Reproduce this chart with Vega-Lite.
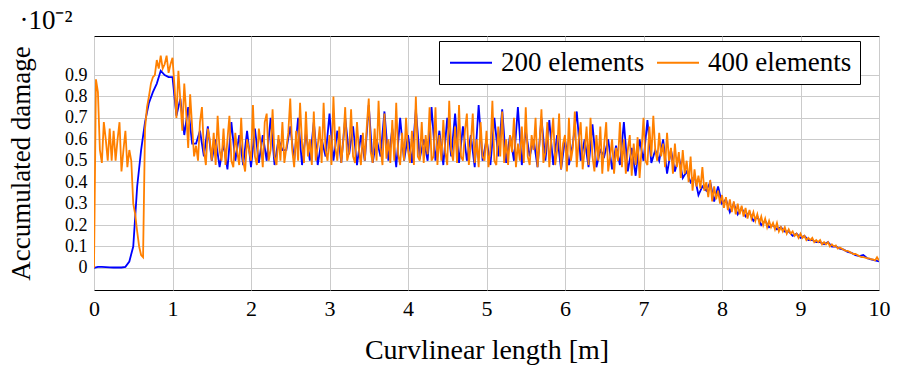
{
  "$schema": "https://vega.github.io/schema/vega-lite/v6.json",
  "width": 785,
  "height": 254,
  "autosize": {"type": "none"},
  "padding": {"left": 94, "top": 36, "right": 18, "bottom": 79},
  "background": "white",
  "title": {"text": "·10⁻²", "anchor": "start", "dx": 12, "offset": 1, "fontSize": 27, "font": "Liberation Serif", "fontWeight": "normal", "color": "black"},
  "config": {
    "view": {"stroke": "black", "strokeWidth": 1},
    "font": "Liberation Serif",
    "axis": {
      "grid": true,
      "gridColor": "#cbcbcb",
      "gridWidth": 1,
      "ticks": false,
      "domain": false,
      "labelFont": "Liberation Serif",
      "labelFontSize": 22,
      "labelColor": "black",
      "labelOverlap": false,
      "labelFlush": false,
      "labelBound": false,
      "titleFont": "Liberation Serif",
      "titleFontSize": 28,
      "titleFontWeight": "normal",
      "titleColor": "black"
    },
    "legend": {
      "labelFont": "Liberation Serif",
      "labelFontSize": 27,
      "labelColor": "black",
      "labelLimit": 400
    }
  },
  "datasets": {
    "e200": [
      {"x":0,"y":0},{"x":0.05,"y":0.005},{"x":0.1,"y":0.005},{"x":0.15,"y":0.004},{"x":0.2,"y":0.003},{"x":0.25,"y":0.002},{"x":0.3,"y":0.002},{"x":0.35,"y":0.002},{"x":0.4,"y":0.005},{"x":0.45,"y":0.03},
      {"x":0.5,"y":0.1},{"x":0.55,"y":0.38},{"x":0.6,"y":0.55},{"x":0.65,"y":0.68},{"x":0.7,"y":0.77},{"x":0.75,"y":0.82},{"x":0.8,"y":0.86},{"x":0.85,"y":0.92},{"x":0.9,"y":0.9},{"x":0.95,"y":0.89},
      {"x":1.0,"y":0.89},{"x":1.05,"y":0.71},{"x":1.1,"y":0.79},{"x":1.15,"y":0.62},{"x":1.2,"y":0.75},{"x":1.25,"y":0.58},{"x":1.3,"y":0.58},{"x":1.35,"y":0.64},{"x":1.4,"y":0.52},{"x":1.45,"y":0.66},
      {"x":1.5,"y":0.5},{"x":1.55,"y":0.6},{"x":1.6,"y":0.47},{"x":1.65,"y":0.58},{"x":1.7,"y":0.46},{"x":1.75,"y":0.68},{"x":1.8,"y":0.5},{"x":1.85,"y":0.62},{"x":1.9,"y":0.48},{"x":1.95,"y":0.64},
      {"x":2.0,"y":0.47},{"x":2.05,"y":0.65},{"x":2.1,"y":0.49},{"x":2.15,"y":0.62},{"x":2.2,"y":0.5},{"x":2.25,"y":0.7},{"x":2.3,"y":0.48},{"x":2.35,"y":0.6},{"x":2.4,"y":0.55},{"x":2.45,"y":0.55},
      {"x":2.5,"y":0.66},{"x":2.55,"y":0.5},{"x":2.6,"y":0.7},{"x":2.65,"y":0.48},{"x":2.7,"y":0.63},{"x":2.75,"y":0.5},{"x":2.8,"y":0.68},{"x":2.85,"y":0.48},{"x":2.9,"y":0.6},{"x":2.95,"y":0.52},
      {"x":3.0,"y":0.72},{"x":3.05,"y":0.5},{"x":3.1,"y":0.64},{"x":3.15,"y":0.49},{"x":3.2,"y":0.7},{"x":3.25,"y":0.53},{"x":3.3,"y":0.66},{"x":3.35,"y":0.48},{"x":3.4,"y":0.62},{"x":3.45,"y":0.5},
      {"x":3.5,"y":0.76},{"x":3.55,"y":0.49},{"x":3.6,"y":0.6},{"x":3.65,"y":0.52},{"x":3.7,"y":0.73},{"x":3.75,"y":0.5},{"x":3.8,"y":0.65},{"x":3.85,"y":0.47},{"x":3.9,"y":0.7},{"x":3.95,"y":0.5},
      {"x":4.0,"y":0.62},{"x":4.05,"y":0.49},{"x":4.1,"y":0.74},{"x":4.15,"y":0.51},{"x":4.2,"y":0.6},{"x":4.25,"y":0.5},{"x":4.3,"y":0.75},{"x":4.35,"y":0.5},{"x":4.4,"y":0.64},{"x":4.45,"y":0.48},
      {"x":4.5,"y":0.7},{"x":4.55,"y":0.52},{"x":4.6,"y":0.72},{"x":4.65,"y":0.49},{"x":4.7,"y":0.66},{"x":4.75,"y":0.5},{"x":4.8,"y":0.62},{"x":4.85,"y":0.47},{"x":4.9,"y":0.76},{"x":4.95,"y":0.5},
      {"x":5.0,"y":0.6},{"x":5.05,"y":0.48},{"x":5.1,"y":0.7},{"x":5.15,"y":0.52},{"x":5.2,"y":0.74},{"x":5.25,"y":0.49},{"x":5.3,"y":0.62},{"x":5.35,"y":0.5},{"x":5.4,"y":0.75},{"x":5.45,"y":0.48},
      {"x":5.5,"y":0.64},{"x":5.55,"y":0.52},{"x":5.6,"y":0.6},{"x":5.65,"y":0.47},{"x":5.7,"y":0.7},{"x":5.75,"y":0.5},{"x":5.8,"y":0.69},{"x":5.85,"y":0.48},{"x":5.9,"y":0.62},{"x":5.95,"y":0.46},
      {"x":6.0,"y":0.6},{"x":6.05,"y":0.48},{"x":6.1,"y":0.58},{"x":6.15,"y":0.73},{"x":6.2,"y":0.5},{"x":6.25,"y":0.6},{"x":6.3,"y":0.47},{"x":6.35,"y":0.67},{"x":6.4,"y":0.47},{"x":6.45,"y":0.55},
      {"x":6.5,"y":0.52},{"x":6.55,"y":0.6},{"x":6.6,"y":0.46},{"x":6.65,"y":0.57},{"x":6.7,"y":0.48},{"x":6.75,"y":0.68},{"x":6.8,"y":0.45},{"x":6.85,"y":0.56},{"x":6.9,"y":0.43},{"x":6.95,"y":0.6},
      {"x":7.0,"y":0.5},{"x":7.05,"y":0.69},{"x":7.1,"y":0.49},{"x":7.15,"y":0.55},{"x":7.2,"y":0.5},{"x":7.25,"y":0.6},{"x":7.3,"y":0.44},{"x":7.35,"y":0.55},{"x":7.4,"y":0.45},{"x":7.45,"y":0.52},
      {"x":7.5,"y":0.42},{"x":7.55,"y":0.45},{"x":7.6,"y":0.4},{"x":7.65,"y":0.43},{"x":7.7,"y":0.34},{"x":7.75,"y":0.38},{"x":7.8,"y":0.36},{"x":7.85,"y":0.4},{"x":7.9,"y":0.31},{"x":7.95,"y":0.38},
      {"x":8.0,"y":0.3},{"x":8.05,"y":0.32},{"x":8.1,"y":0.26},{"x":8.15,"y":0.3},{"x":8.2,"y":0.25},{"x":8.25,"y":0.28},{"x":8.3,"y":0.24},{"x":8.35,"y":0.26},{"x":8.4,"y":0.22},{"x":8.45,"y":0.24},
      {"x":8.5,"y":0.2},{"x":8.55,"y":0.22},{"x":8.6,"y":0.19},{"x":8.65,"y":0.2},{"x":8.7,"y":0.18},{"x":8.75,"y":0.19},{"x":8.8,"y":0.17},{"x":8.85,"y":0.17},{"x":8.9,"y":0.15},{"x":8.95,"y":0.16},
      {"x":9.0,"y":0.14},{"x":9.05,"y":0.15},{"x":9.1,"y":0.13},{"x":9.15,"y":0.13},{"x":9.2,"y":0.12},{"x":9.25,"y":0.12},{"x":9.3,"y":0.11},{"x":9.35,"y":0.12},{"x":9.4,"y":0.1},{"x":9.45,"y":0.1},
      {"x":9.5,"y":0.09},{"x":9.55,"y":0.085},{"x":9.6,"y":0.075},{"x":9.65,"y":0.07},{"x":9.7,"y":0.06},{"x":9.75,"y":0.055},{"x":9.8,"y":0.06},{"x":9.85,"y":0.045},{"x":9.9,"y":0.04},{"x":9.95,"y":0.035},
      {"x":10.0,"y":0.03}
    ],
    "e400": [
      {"x":0,"y":0},{"x":0.025,"y":0.88},{"x":0.05,"y":0.82},{"x":0.075,"y":0.55},{"x":0.1,"y":0.49},{"x":0.125,"y":0.68},{"x":0.15,"y":0.6},{"x":0.175,"y":0.5},
      {"x":0.2,"y":0.65},{"x":0.225,"y":0.5},{"x":0.25,"y":0.64},{"x":0.275,"y":0.5},{"x":0.3,"y":0.6},{"x":0.325,"y":0.68},{"x":0.35,"y":0.45},{"x":0.375,"y":0.55},
      {"x":0.4,"y":0.64},{"x":0.425,"y":0.47},{"x":0.45,"y":0.55},{"x":0.475,"y":0.5},{"x":0.5,"y":0.3},{"x":0.525,"y":0.25},{"x":0.55,"y":0.17},{"x":0.575,"y":0.1},
      {"x":0.6,"y":0.06},{"x":0.625,"y":0.05},{"x":0.65,"y":0.65},{"x":0.675,"y":0.75},{"x":0.7,"y":0.8},{"x":0.725,"y":0.86},{"x":0.75,"y":0.89},{"x":0.775,"y":0.9},
      {"x":0.8,"y":0.97},{"x":0.825,"y":0.93},{"x":0.85,"y":0.99},{"x":0.875,"y":0.93},{"x":0.9,"y":0.95},{"x":0.925,"y":0.99},{"x":0.95,"y":0.91},{"x":0.975,"y":0.95},
      {"x":1.0,"y":0.98},{"x":1.025,"y":0.85},{"x":1.05,"y":0.7},{"x":1.075,"y":0.92},{"x":1.1,"y":0.78},{"x":1.125,"y":0.64},{"x":1.15,"y":0.86},{"x":1.175,"y":0.72},
      {"x":1.2,"y":0.56},{"x":1.225,"y":0.81},{"x":1.25,"y":0.66},{"x":1.275,"y":0.52},
      {"x":1.3,"y":0.57},{"x":1.325,"y":0.5},{"x":1.35,"y":0.68},{"x":1.375,"y":0.75},
      {"x":1.4,"y":0.55},{"x":1.425,"y":0.48},{"x":1.45,"y":0.65},{"x":1.475,"y":0.6},
      {"x":1.5,"y":0.5},{"x":1.525,"y":0.63},{"x":1.55,"y":0.48},{"x":1.575,"y":0.71},
      {"x":1.6,"y":0.55},{"x":1.625,"y":0.5},{"x":1.65,"y":0.65},{"x":1.675,"y":0.48},
      {"x":1.7,"y":0.6},{"x":1.725,"y":0.71},{"x":1.75,"y":0.5},{"x":1.775,"y":0.47},
      {"x":1.8,"y":0.63},{"x":1.825,"y":0.54},{"x":1.85,"y":0.48},{"x":1.875,"y":0.7},
      {"x":1.9,"y":0.5},{"x":1.925,"y":0.45},{"x":1.95,"y":0.6},{"x":1.975,"y":0.55},
      {"x":2.0,"y":0.5},{"x":2.025,"y":0.76},{"x":2.05,"y":0.52},{"x":2.075,"y":0.48},
      {"x":2.1,"y":0.65},{"x":2.125,"y":0.58},{"x":2.15,"y":0.47},{"x":2.175,"y":0.68},
      {"x":2.2,"y":0.72},{"x":2.225,"y":0.5},{"x":2.25,"y":0.55},{"x":2.275,"y":0.74},
      {"x":2.3,"y":0.52},{"x":2.325,"y":0.48},{"x":2.35,"y":0.62},{"x":2.375,"y":0.5},
      {"x":2.4,"y":0.68},{"x":2.425,"y":0.49},{"x":2.45,"y":0.56},{"x":2.475,"y":0.63},
      {"x":2.5,"y":0.79},{"x":2.525,"y":0.55},{"x":2.55,"y":0.47},{"x":2.575,"y":0.64},
      {"x":2.6,"y":0.5},{"x":2.625,"y":0.77},{"x":2.65,"y":0.58},{"x":2.675,"y":0.49},
      {"x":2.7,"y":0.73},{"x":2.725,"y":0.52},{"x":2.75,"y":0.6},{"x":2.775,"y":0.48},
      {"x":2.8,"y":0.73},{"x":2.825,"y":0.5},{"x":2.85,"y":0.57},{"x":2.875,"y":0.66},
      {"x":2.9,"y":0.49},{"x":2.925,"y":0.77},{"x":2.95,"y":0.55},{"x":2.975,"y":0.5},
      {"x":3.0,"y":0.62},{"x":3.025,"y":0.48},{"x":3.05,"y":0.8},{"x":3.075,"y":0.56},
      {"x":3.1,"y":0.5},{"x":3.125,"y":0.66},{"x":3.15,"y":0.49},{"x":3.175,"y":0.59},
      {"x":3.2,"y":0.75},{"x":3.225,"y":0.5},{"x":3.25,"y":0.54},{"x":3.275,"y":0.74},
      {"x":3.3,"y":0.52},{"x":3.325,"y":0.49},{"x":3.35,"y":0.68},{"x":3.375,"y":0.55},
      {"x":3.4,"y":0.48},{"x":3.425,"y":0.63},{"x":3.45,"y":0.5},{"x":3.475,"y":0.66},
      {"x":3.5,"y":0.79},{"x":3.525,"y":0.54},{"x":3.55,"y":0.49},{"x":3.575,"y":0.65},
      {"x":3.6,"y":0.5},{"x":3.625,"y":0.78},{"x":3.65,"y":0.56},{"x":3.675,"y":0.48},
      {"x":3.7,"y":0.72},{"x":3.725,"y":0.51},{"x":3.75,"y":0.6},{"x":3.775,"y":0.49},
      {"x":3.8,"y":0.69},{"x":3.825,"y":0.5},{"x":3.85,"y":0.77},{"x":3.875,"y":0.53},
      {"x":3.9,"y":0.48},{"x":3.925,"y":0.63},{"x":3.95,"y":0.5},{"x":3.975,"y":0.7},
      {"x":4.0,"y":0.55},{"x":4.025,"y":0.49},{"x":4.05,"y":0.64},{"x":4.075,"y":0.48},
      {"x":4.1,"y":0.8},{"x":4.125,"y":0.52},{"x":4.15,"y":0.5},{"x":4.175,"y":0.68},
      {"x":4.2,"y":0.49},{"x":4.225,"y":0.62},{"x":4.25,"y":0.53},{"x":4.275,"y":0.75},
      {"x":4.3,"y":0.5},{"x":4.325,"y":0.52},{"x":4.35,"y":0.75},{"x":4.375,"y":0.48},
      {"x":4.4,"y":0.62},{"x":4.425,"y":0.5},{"x":4.45,"y":0.69},{"x":4.475,"y":0.54},
      {"x":4.5,"y":0.48},{"x":4.525,"y":0.78},{"x":4.55,"y":0.55},{"x":4.575,"y":0.5},
      {"x":4.6,"y":0.66},{"x":4.625,"y":0.49},{"x":4.65,"y":0.76},{"x":4.675,"y":0.52},
      {"x":4.7,"y":0.5},{"x":4.725,"y":0.64},{"x":4.75,"y":0.72},{"x":4.775,"y":0.48},
      {"x":4.8,"y":0.58},{"x":4.825,"y":0.72},{"x":4.85,"y":0.49},{"x":4.875,"y":0.6},
      {"x":4.9,"y":0.47},{"x":4.925,"y":0.68},{"x":4.95,"y":0.52},{"x":4.975,"y":0.5},
      {"x":5.0,"y":0.64},{"x":5.025,"y":0.47},{"x":5.05,"y":0.55},{"x":5.075,"y":0.78},
      {"x":5.1,"y":0.5},{"x":5.125,"y":0.48},{"x":5.15,"y":0.66},{"x":5.175,"y":0.52},
      {"x":5.2,"y":0.73},{"x":5.225,"y":0.49},{"x":5.25,"y":0.6},{"x":5.275,"y":0.48},
      {"x":5.3,"y":0.62},{"x":5.325,"y":0.54},{"x":5.35,"y":0.7},{"x":5.375,"y":0.47},
      {"x":5.4,"y":0.58},{"x":5.425,"y":0.5},{"x":5.45,"y":0.66},{"x":5.475,"y":0.49},
      {"x":5.5,"y":0.75},{"x":5.525,"y":0.52},{"x":5.55,"y":0.48},{"x":5.575,"y":0.62},
      {"x":5.6,"y":0.55},{"x":5.625,"y":0.7},{"x":5.65,"y":0.47},{"x":5.675,"y":0.58},
      {"x":5.7,"y":0.74},{"x":5.725,"y":0.49},{"x":5.75,"y":0.54},{"x":5.775,"y":0.68},
      {"x":5.8,"y":0.47},{"x":5.825,"y":0.6},{"x":5.85,"y":0.7},{"x":5.875,"y":0.48},
      {"x":5.9,"y":0.55},{"x":5.925,"y":0.72},{"x":5.95,"y":0.46},{"x":5.975,"y":0.58},
      {"x":6.0,"y":0.62},{"x":6.025,"y":0.45},{"x":6.05,"y":0.7},{"x":6.075,"y":0.5},
      {"x":6.1,"y":0.56},{"x":6.125,"y":0.73},{"x":6.15,"y":0.47},{"x":6.175,"y":0.6},
      {"x":6.2,"y":0.68},{"x":6.225,"y":0.46},{"x":6.25,"y":0.55},{"x":6.275,"y":0.66},
      {"x":6.3,"y":0.48},{"x":6.325,"y":0.7},{"x":6.35,"y":0.52},{"x":6.375,"y":0.45},
      {"x":6.4,"y":0.62},{"x":6.425,"y":0.5},{"x":6.45,"y":0.66},{"x":6.475,"y":0.44},
      {"x":6.5,"y":0.58},{"x":6.525,"y":0.68},{"x":6.55,"y":0.45},{"x":6.575,"y":0.52},
      {"x":6.6,"y":0.6},{"x":6.625,"y":0.44},{"x":6.65,"y":0.56},{"x":6.675,"y":0.5},
      {"x":6.7,"y":0.68},{"x":6.725,"y":0.47},{"x":6.75,"y":0.6},{"x":6.775,"y":0.44},
      {"x":6.8,"y":0.55},{"x":6.825,"y":0.62},{"x":6.85,"y":0.43},{"x":6.875,"y":0.58},
      {"x":6.9,"y":0.48},{"x":6.925,"y":0.61},{"x":6.95,"y":0.42},{"x":6.975,"y":0.55},
      {"x":7.0,"y":0.7},{"x":7.025,"y":0.5},{"x":7.05,"y":0.48},{"x":7.075,"y":0.66},
      {"x":7.1,"y":0.52},{"x":7.125,"y":0.71},{"x":7.15,"y":0.55},{"x":7.175,"y":0.5},
      {"x":7.2,"y":0.63},{"x":7.225,"y":0.52},{"x":7.25,"y":0.58},{"x":7.275,"y":0.47},
      {"x":7.3,"y":0.63},{"x":7.325,"y":0.5},{"x":7.35,"y":0.56},{"x":7.375,"y":0.44},
      {"x":7.4,"y":0.58},{"x":7.425,"y":0.47},{"x":7.45,"y":0.54},{"x":7.475,"y":0.42},
      {"x":7.5,"y":0.55},{"x":7.525,"y":0.44},{"x":7.55,"y":0.5},{"x":7.575,"y":0.4},
      {"x":7.6,"y":0.52},{"x":7.625,"y":0.36},{"x":7.65,"y":0.46},{"x":7.675,"y":0.38},
      {"x":7.7,"y":0.43},{"x":7.725,"y":0.37},{"x":7.75,"y":0.47},{"x":7.775,"y":0.36},
      {"x":7.8,"y":0.4},{"x":7.825,"y":0.33},{"x":7.85,"y":0.41},{"x":7.875,"y":0.31},
      {"x":7.9,"y":0.38},{"x":7.925,"y":0.32},{"x":7.95,"y":0.36},{"x":7.975,"y":0.3},
      {"x":8.0,"y":0.34},{"x":8.025,"y":0.28},{"x":8.05,"y":0.33},{"x":8.075,"y":0.27},
      {"x":8.1,"y":0.32},{"x":8.125,"y":0.26},{"x":8.15,"y":0.31},{"x":8.175,"y":0.25},
      {"x":8.2,"y":0.3},{"x":8.225,"y":0.25},{"x":8.25,"y":0.29},{"x":8.275,"y":0.24},
      {"x":8.3,"y":0.28},{"x":8.325,"y":0.23},{"x":8.35,"y":0.27},{"x":8.375,"y":0.23},
      {"x":8.4,"y":0.26},{"x":8.425,"y":0.22},{"x":8.45,"y":0.25},{"x":8.475,"y":0.21},
      {"x":8.5,"y":0.24},{"x":8.525,"y":0.2},{"x":8.55,"y":0.23},{"x":8.575,"y":0.19},
      {"x":8.6,"y":0.22},{"x":8.625,"y":0.19},{"x":8.65,"y":0.21},{"x":8.675,"y":0.18},
      {"x":8.7,"y":0.21},{"x":8.725,"y":0.17},{"x":8.75,"y":0.19},{"x":8.775,"y":0.17},
      {"x":8.8,"y":0.19},{"x":8.825,"y":0.16},{"x":8.85,"y":0.18},{"x":8.875,"y":0.16},
      {"x":8.9,"y":0.17},{"x":8.925,"y":0.15},{"x":8.95,"y":0.16},{"x":8.975,"y":0.14},
      {"x":9.0,"y":0.16},{"x":9.025,"y":0.14},{"x":9.05,"y":0.15},{"x":9.075,"y":0.13},
      {"x":9.1,"y":0.14},{"x":9.125,"y":0.13},{"x":9.15,"y":0.14},{"x":9.175,"y":0.12},
      {"x":9.2,"y":0.13},{"x":9.225,"y":0.12},{"x":9.25,"y":0.13},{"x":9.275,"y":0.11},
      {"x":9.3,"y":0.12},{"x":9.325,"y":0.11},{"x":9.35,"y":0.12},{"x":9.375,"y":0.1},
      {"x":9.4,"y":0.11},{"x":9.425,"y":0.1},{"x":9.45,"y":0.105},{"x":9.475,"y":0.09},
      {"x":9.5,"y":0.095},{"x":9.525,"y":0.09},{"x":9.55,"y":0.085},{"x":9.575,"y":0.08},
      {"x":9.6,"y":0.08},{"x":9.625,"y":0.075},{"x":9.65,"y":0.07},{"x":9.675,"y":0.065},
      {"x":9.7,"y":0.065},{"x":9.725,"y":0.06},{"x":9.75,"y":0.055},{"x":9.775,"y":0.05},
      {"x":9.8,"y":0.05},{"x":9.825,"y":0.048},{"x":9.85,"y":0.045},{"x":9.875,"y":0.045},
      {"x":9.9,"y":0.04},{"x":9.925,"y":0.04},{"x":9.95,"y":0.035},{"x":9.975,"y":0.05},
      {"x":10.0,"y":0.035}
    ]
  },
  "encoding": {
    "x": {"field": "x", "type": "quantitative", "scale": {"domain": [0, 10], "nice": false, "zero": false},
          "axis": {"values": [0,1,2,3,4,5,6,7,8,9,10], "format": "d", "labelPadding": 8, "titlePadding": 17}, "title": "Curvlinear length [m]"},
    "y": {"field": "y", "type": "quantitative", "scale": {"domain": [-0.103, 1.082], "nice": false, "zero": false},
          "axis": {"values": [0,0.1,0.2,0.3,0.4,0.5,0.6,0.7,0.8,0.9], "format": ".1~f", "labelFontSize": 18, "labelPadding": 7, "titlePadding": 29, "titleFontSize": 27}, "title": "Accumulated damage"}
  },
  "layer": [
    {
      "data": {"name": "e200"},
      "mark": {"type": "line", "strokeWidth": 1.8, "clip": true},
      "encoding": {
        "color": {"datum": "200 elements", "type": "nominal",
                  "scale": {"domain": ["200 elements", "400 elements"], "range": ["#0000ff", "#ff8000"]},
                  "legend": {"orient": "none", "legendX": 345, "legendY": 5, "direction": "horizontal", "title": null,
                             "symbolType": "M-1,0H3", "symbolSize": 441, "symbolStrokeWidth": 2,
                             "labelFont": "Liberation Serif", "labelFontSize": 27, "labelColor": "black", "labelLimit": 400,
                             "labelOffset": 27, "columnPadding": 8, "padding": 8,
                             "strokeColor": "black", "fillColor": "white", "cornerRadius": 0}}
      }
    },
    {
      "data": {"name": "e400"},
      "mark": {"type": "line", "strokeWidth": 1.8, "clip": true},
      "encoding": {
        "color": {"datum": "400 elements", "type": "nominal"}
      }
    }
  ]
}
